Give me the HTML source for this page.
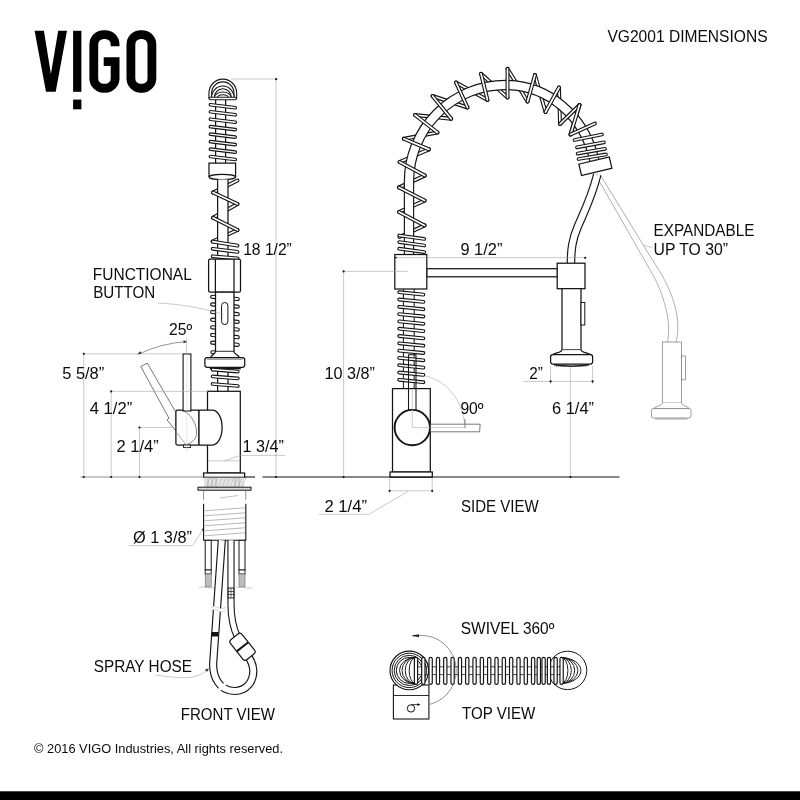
<!DOCTYPE html>
<html><head><meta charset="utf-8"><title>VG2001 Dimensions</title>
<style>html,body{margin:0;padding:0;background:#fff;}body{width:800px;height:800px;overflow:hidden;font-family:"Liberation Sans",sans-serif;}svg{display:block;filter:grayscale(1);}</style></head>
<body>
<svg width="800" height="800" viewBox="0 0 800 800" font-family="'Liberation Sans', sans-serif">
<rect width="800" height="800" fill="#fff"/>
<g fill="#000">
<polygon points="34.6,30.8 43.9,30.8 50.9,74 58.2,30.8 67,30.8 55.7,91.8 46,91.8"/>
<rect x="73.1" y="30.8" width="8.3" height="61"/>
<rect x="73.1" y="99.6" width="8.3" height="9.7"/>
</g>
<path d="M115.1 46.3 V44.4 A9.85 9.85 0 0 0 105.25 34.55 H103.65 A9.85 9.85 0 0 0 93.8 44.4 V78.4 A9.85 9.85 0 0 0 103.65 88.25 H105.25 A9.85 9.85 0 0 0 115.1 78.4 V61.7 H103.7" fill="none" stroke="#000" stroke-width="8.8" stroke-linejoin="miter"/>
<rect x="130.9" y="34.55" width="21" height="53.7" rx="9.85" fill="none" stroke="#000" stroke-width="8.8"/>
<path d="M210.3 98.5 V93.2 A12.5 12.7 0 0 1 235.3 93.2 V98.5" fill="none" stroke="#141414" stroke-width="3.85" stroke-linecap="butt" stroke-linejoin="round"/>
<path d="M210.3 98.5 V93.2 A12.5 12.7 0 0 1 235.3 93.2 V98.5" fill="none" stroke="#fff" stroke-width="1.6" stroke-linecap="butt" stroke-linejoin="round"/>
<path d="M212.8 98 A10 10.6 0 0 1 232.8 98" fill="none" stroke="#141414" stroke-width="3.85" stroke-linecap="butt" stroke-linejoin="round"/>
<path d="M212.8 98 A10 10.6 0 0 1 232.8 98" fill="none" stroke="#fff" stroke-width="1.6" stroke-linecap="butt" stroke-linejoin="round"/>
<path d="M215.6 98 A7.2 4.6 0 0 1 230 98" fill="none" stroke="#141414" stroke-width="3.85" stroke-linecap="butt" stroke-linejoin="round"/>
<path d="M215.6 98 A7.2 4.6 0 0 1 230 98" fill="none" stroke="#fff" stroke-width="1.6" stroke-linecap="butt" stroke-linejoin="round"/>
<line x1="215.6" y1="100" x2="215.6" y2="163" stroke="#141414" stroke-width="1.25" />
<line x1="225.6" y1="100" x2="225.6" y2="163" stroke="#141414" stroke-width="1.25" />
<path d="M210.4 98.5 L235.2 98.5" fill="none" stroke="#141414" stroke-width="3.65" stroke-linecap="round" stroke-linejoin="round"/>
<path d="M210.4 98.5 L235.2 98.5" fill="none" stroke="#fff" stroke-width="1.4" stroke-linecap="round" stroke-linejoin="round"/>
<path d="M210.4 104.7 L235.2 107.7" fill="none" stroke="#141414" stroke-width="3.65" stroke-linecap="round" stroke-linejoin="round"/>
<path d="M210.4 104.7 L235.2 107.7" fill="none" stroke="#fff" stroke-width="1.4" stroke-linecap="round" stroke-linejoin="round"/>
<path d="M210.4 111.8 L235.2 114.8" fill="none" stroke="#141414" stroke-width="3.65" stroke-linecap="round" stroke-linejoin="round"/>
<path d="M210.4 111.8 L235.2 114.8" fill="none" stroke="#fff" stroke-width="1.4" stroke-linecap="round" stroke-linejoin="round"/>
<path d="M210.4 119.2 L235.2 122.2" fill="none" stroke="#141414" stroke-width="3.65" stroke-linecap="round" stroke-linejoin="round"/>
<path d="M210.4 119.2 L235.2 122.2" fill="none" stroke="#fff" stroke-width="1.4" stroke-linecap="round" stroke-linejoin="round"/>
<path d="M210.4 126.6 L235.2 129.6" fill="none" stroke="#141414" stroke-width="3.65" stroke-linecap="round" stroke-linejoin="round"/>
<path d="M210.4 126.6 L235.2 129.6" fill="none" stroke="#fff" stroke-width="1.4" stroke-linecap="round" stroke-linejoin="round"/>
<path d="M210.4 134.1 L235.2 137.1" fill="none" stroke="#141414" stroke-width="3.65" stroke-linecap="round" stroke-linejoin="round"/>
<path d="M210.4 134.1 L235.2 137.1" fill="none" stroke="#fff" stroke-width="1.4" stroke-linecap="round" stroke-linejoin="round"/>
<path d="M210.4 141.6 L235.2 144.6" fill="none" stroke="#141414" stroke-width="3.65" stroke-linecap="round" stroke-linejoin="round"/>
<path d="M210.4 141.6 L235.2 144.6" fill="none" stroke="#fff" stroke-width="1.4" stroke-linecap="round" stroke-linejoin="round"/>
<path d="M210.4 149.1 L235.2 152.1" fill="none" stroke="#141414" stroke-width="3.65" stroke-linecap="round" stroke-linejoin="round"/>
<path d="M210.4 149.1 L235.2 152.1" fill="none" stroke="#fff" stroke-width="1.4" stroke-linecap="round" stroke-linejoin="round"/>
<path d="M210.4 156.5 L235.2 159.5" fill="none" stroke="#141414" stroke-width="3.65" stroke-linecap="round" stroke-linejoin="round"/>
<path d="M210.4 156.5 L235.2 159.5" fill="none" stroke="#fff" stroke-width="1.4" stroke-linecap="round" stroke-linejoin="round"/>
<path d="M209 163.2 H235.6 V177 A13.3 2.6 0 0 1 209 177 Z" fill="#fff" stroke="#141414" stroke-width="1.25" />
<path d="M209 177 A13.3 2.6 0 0 1 235.6 177" fill="none" stroke="#141414" stroke-width="1.25" />
<path d="M237.5 180.5 L213 192.5" fill="none" stroke="#141414" stroke-width="3.95" stroke-linecap="round" stroke-linejoin="round"/>
<path d="M237.5 180.5 L213 192.5" fill="none" stroke="#fff" stroke-width="1.7" stroke-linecap="round" stroke-linejoin="round"/>
<path d="M237.5 204 L213 217.8" fill="none" stroke="#141414" stroke-width="3.95" stroke-linecap="round" stroke-linejoin="round"/>
<path d="M237.5 204 L213 217.8" fill="none" stroke="#fff" stroke-width="1.7" stroke-linecap="round" stroke-linejoin="round"/>
<path d="M237.5 230 L212.5 241.5" fill="none" stroke="#141414" stroke-width="3.95" stroke-linecap="round" stroke-linejoin="round"/>
<path d="M237.5 230 L212.5 241.5" fill="none" stroke="#fff" stroke-width="1.7" stroke-linecap="round" stroke-linejoin="round"/>
<rect x="217.6" y="179.5" width="10.4" height="80" fill="#fff" stroke="none"/>
<line x1="217.6" y1="179.6" x2="217.6" y2="259" stroke="#141414" stroke-width="1.25" />
<line x1="228" y1="179.6" x2="228" y2="259" stroke="#141414" stroke-width="1.25" />
<path d="M213 192.5 L237.5 204" fill="none" stroke="#141414" stroke-width="3.95" stroke-linecap="round" stroke-linejoin="round"/>
<path d="M213 192.5 L237.5 204" fill="none" stroke="#fff" stroke-width="1.7" stroke-linecap="round" stroke-linejoin="round"/>
<path d="M213 217.8 L237.5 230" fill="none" stroke="#141414" stroke-width="3.95" stroke-linecap="round" stroke-linejoin="round"/>
<path d="M213 217.8 L237.5 230" fill="none" stroke="#fff" stroke-width="1.7" stroke-linecap="round" stroke-linejoin="round"/>
<path d="M212.7 241.6 L237.5 245.6" fill="none" stroke="#141414" stroke-width="3.85" stroke-linecap="round" stroke-linejoin="round"/>
<path d="M212.7 241.6 L237.5 245.6" fill="none" stroke="#fff" stroke-width="1.6" stroke-linecap="round" stroke-linejoin="round"/>
<path d="M212.7 248.8 L237.5 251.9" fill="none" stroke="#141414" stroke-width="3.85" stroke-linecap="round" stroke-linejoin="round"/>
<path d="M212.7 248.8 L237.5 251.9" fill="none" stroke="#fff" stroke-width="1.6" stroke-linecap="round" stroke-linejoin="round"/>
<path d="M212.7 256.3 L237.5 258.4" fill="none" stroke="#141414" stroke-width="3.85" stroke-linecap="round" stroke-linejoin="round"/>
<path d="M212.7 256.3 L237.5 258.4" fill="none" stroke="#fff" stroke-width="1.6" stroke-linecap="round" stroke-linejoin="round"/>
<rect x="208.6" y="259.2" width="31.9" height="33" rx="1.6" fill="#fff" stroke="#141414" stroke-width="1.25"/>
<line x1="215.4" y1="259.2" x2="215.4" y2="292.2" stroke="#141414" stroke-width="1.25" />
<line x1="234" y1="259.2" x2="234" y2="292.2" stroke="#141414" stroke-width="1.25" />
<path d="M212.2 296.8 L237.7 299" fill="none" stroke="#141414" stroke-width="4.25" stroke-linecap="round" stroke-linejoin="round"/>
<path d="M212.2 296.8 L237.7 299" fill="none" stroke="#fff" stroke-width="1.9" stroke-linecap="round" stroke-linejoin="round"/>
<path d="M212.2 304.4 L237.7 306.6" fill="none" stroke="#141414" stroke-width="4.25" stroke-linecap="round" stroke-linejoin="round"/>
<path d="M212.2 304.4 L237.7 306.6" fill="none" stroke="#fff" stroke-width="1.9" stroke-linecap="round" stroke-linejoin="round"/>
<path d="M212.2 312 L237.7 314.2" fill="none" stroke="#141414" stroke-width="4.25" stroke-linecap="round" stroke-linejoin="round"/>
<path d="M212.2 312 L237.7 314.2" fill="none" stroke="#fff" stroke-width="1.9" stroke-linecap="round" stroke-linejoin="round"/>
<path d="M212.2 319.7 L237.7 321.9" fill="none" stroke="#141414" stroke-width="4.25" stroke-linecap="round" stroke-linejoin="round"/>
<path d="M212.2 319.7 L237.7 321.9" fill="none" stroke="#fff" stroke-width="1.9" stroke-linecap="round" stroke-linejoin="round"/>
<path d="M212.2 327.3 L237.7 329.5" fill="none" stroke="#141414" stroke-width="4.25" stroke-linecap="round" stroke-linejoin="round"/>
<path d="M212.2 327.3 L237.7 329.5" fill="none" stroke="#fff" stroke-width="1.9" stroke-linecap="round" stroke-linejoin="round"/>
<path d="M212.2 335 L237.7 337.2" fill="none" stroke="#141414" stroke-width="4.25" stroke-linecap="round" stroke-linejoin="round"/>
<path d="M212.2 335 L237.7 337.2" fill="none" stroke="#fff" stroke-width="1.9" stroke-linecap="round" stroke-linejoin="round"/>
<path d="M212.2 342.6 L237.7 344.8" fill="none" stroke="#141414" stroke-width="4.25" stroke-linecap="round" stroke-linejoin="round"/>
<path d="M212.2 342.6 L237.7 344.8" fill="none" stroke="#fff" stroke-width="1.9" stroke-linecap="round" stroke-linejoin="round"/>
<path d="M212.4 352.2 L225 353" fill="none" stroke="#141414" stroke-width="4.05" stroke-linecap="round" stroke-linejoin="round"/>
<path d="M212.4 352.2 L225 353" fill="none" stroke="#fff" stroke-width="1.8" stroke-linecap="round" stroke-linejoin="round"/>
<path d="M215.5 292.2 V351.3 C215.5 354 212.5 354.6 211 356.6 L210 357.8 H239.8 L238.9 356.6 C237.5 354.6 234 354 234 351.3 V292.2 Z" fill="#fff" stroke="#141414" stroke-width="1.25" />
<line x1="215.5" y1="351.3" x2="234" y2="351.3" stroke="#141414" stroke-width="0.9" />
<rect x="204.9" y="357.6" width="39.8" height="9.7" rx="2.2" fill="#fff" stroke="#141414" stroke-width="1.25"/>
<line x1="207" y1="359.2" x2="242.6" y2="359.2" stroke="#444" stroke-width="0.7" />
<rect x="209.8" y="367.5" width="31" height="1.9" fill="#141414"/>
<rect x="221.6" y="302.5" width="6.3" height="22.1" rx="3.1" fill="#fff" stroke="#141414" stroke-width="1"/>
<rect x="217.6" y="369" width="10.4" height="23" fill="#fff"/>
<line x1="217.6" y1="369" x2="217.6" y2="391.5" stroke="#141414" stroke-width="1.25" />
<line x1="228" y1="369" x2="228" y2="391.5" stroke="#141414" stroke-width="1.25" />
<path d="M212.6 369.6 L237.8 371.6" fill="none" stroke="#141414" stroke-width="3.75" stroke-linecap="round" stroke-linejoin="round"/>
<path d="M212.6 369.6 L237.8 371.6" fill="none" stroke="#fff" stroke-width="1.55" stroke-linecap="round" stroke-linejoin="round"/>
<path d="M212.6 376.4 L237.8 378.4" fill="none" stroke="#141414" stroke-width="3.75" stroke-linecap="round" stroke-linejoin="round"/>
<path d="M212.6 376.4 L237.8 378.4" fill="none" stroke="#fff" stroke-width="1.55" stroke-linecap="round" stroke-linejoin="round"/>
<path d="M212.6 384 L237.8 386" fill="none" stroke="#141414" stroke-width="3.75" stroke-linecap="round" stroke-linejoin="round"/>
<path d="M212.6 384 L237.8 386" fill="none" stroke="#fff" stroke-width="1.55" stroke-linecap="round" stroke-linejoin="round"/>
<rect x="207.5" y="391.3" width="32.8" height="81.7" rx="0" fill="#fff" stroke="#141414" stroke-width="1.25"/>
<rect x="203.6" y="473" width="41" height="4.3" rx="0" fill="#fff" stroke="#141414" stroke-width="1.25"/>
<path d="M140.8 366.5 L147.3 363.2 L176 412.6 L176 431 L167 419.8 L169 418.3 Z" fill="#fff" stroke="#555" stroke-width="0.8" />
<rect x="175.9" y="410" width="23.1" height="35" rx="1.5" fill="#fff" stroke="#141414" stroke-width="1.25"/>
<path d="M183.5 410.5 C193 416 197 426 196.6 434 C196 440 190 444 186 444.6" fill="none" stroke="#666" stroke-width="0.8" />
<path d="M176.2 432 L186 444.6" fill="none" stroke="#888" stroke-width="0.7" />
<path d="M199 410 H212.4 A9.7 17.5 0 0 1 212.4 445 H199 Z" fill="#fff" stroke="#141414" stroke-width="1.25" />
<rect x="183.6" y="445" width="6.8" height="2.6" rx="0" fill="#fff" stroke="#141414" stroke-width="0.9"/>
<rect x="183.1" y="354" width="7.8" height="57" rx="0" fill="#fff" stroke="#141414" stroke-width="1.1"/>
<rect x="203.8" y="477.6" width="40.3" height="9.5" fill="#e4e4e4"/>
<line x1="206" y1="487" x2="210" y2="477.8" stroke="#aaa" stroke-width="0.5" />
<line x1="210" y1="487" x2="214" y2="477.8" stroke="#aaa" stroke-width="0.5" />
<line x1="214" y1="487" x2="218" y2="477.8" stroke="#aaa" stroke-width="0.5" />
<line x1="218" y1="487" x2="222" y2="477.8" stroke="#aaa" stroke-width="0.5" />
<line x1="222" y1="487" x2="226" y2="477.8" stroke="#aaa" stroke-width="0.5" />
<line x1="226" y1="487" x2="230" y2="477.8" stroke="#aaa" stroke-width="0.5" />
<line x1="230" y1="487" x2="234" y2="477.8" stroke="#aaa" stroke-width="0.5" />
<line x1="234" y1="487" x2="238" y2="477.8" stroke="#aaa" stroke-width="0.5" />
<line x1="238" y1="487" x2="242" y2="477.8" stroke="#aaa" stroke-width="0.5" />
<line x1="242" y1="487" x2="246" y2="477.8" stroke="#aaa" stroke-width="0.5" />
<line x1="208" y1="477.8" x2="208" y2="487" stroke="#999" stroke-width="0.6" />
<line x1="212" y1="477.8" x2="212" y2="487" stroke="#999" stroke-width="0.6" />
<line x1="216" y1="477.8" x2="216" y2="487" stroke="#999" stroke-width="0.6" />
<line x1="235" y1="477.8" x2="235" y2="487" stroke="#999" stroke-width="0.6" />
<line x1="239" y1="477.8" x2="239" y2="487" stroke="#999" stroke-width="0.6" />
<rect x="198" y="487.2" width="53" height="3" rx="0" fill="#ddd" stroke="#141414" stroke-width="1"/>
<line x1="203.6" y1="490.5" x2="203.6" y2="500" stroke="#777" stroke-width="0.8" />
<line x1="245.8" y1="490.5" x2="245.8" y2="500" stroke="#777" stroke-width="0.8" />
<line x1="220" y1="498" x2="238" y2="495.5" stroke="#999" stroke-width="0.6" />
<path d="M203.6 503.8 V540.3 H245.8 V503.8" fill="#fff" stroke="#141414" stroke-width="1.1" />
<line x1="204.5" y1="510.8" x2="245" y2="507.8" stroke="#888" stroke-width="0.6" />
<line x1="204.5" y1="515.8" x2="245" y2="512.8" stroke="#888" stroke-width="0.6" />
<line x1="204.5" y1="520.8" x2="245" y2="517.8" stroke="#888" stroke-width="0.6" />
<line x1="204.5" y1="525.8" x2="245" y2="522.8" stroke="#888" stroke-width="0.6" />
<line x1="204.5" y1="530.8" x2="245" y2="527.8" stroke="#888" stroke-width="0.6" />
<line x1="204.5" y1="535.8" x2="245" y2="532.8" stroke="#888" stroke-width="0.6" />
<rect x="205.2" y="540.3" width="6" height="29.7" rx="0" fill="#fff" stroke="#141414" stroke-width="1"/>
<rect x="205.2" y="570" width="6" height="4" rx="0" fill="#fff" stroke="#141414" stroke-width="0.9"/>
<rect x="205.2" y="574" width="6" height="13" fill="#bdbdbd" stroke="#666" stroke-width="0.6"/>
<rect x="239" y="540.3" width="6" height="29.7" rx="0" fill="#fff" stroke="#141414" stroke-width="1"/>
<rect x="239" y="570" width="6" height="4" rx="0" fill="#fff" stroke="#141414" stroke-width="0.9"/>
<rect x="239" y="574" width="6" height="13" fill="#bdbdbd" stroke="#666" stroke-width="0.6"/>
<path d="M199 587.5 q4 -1.5 8 0 t8 0 M236 587.5 q4 -1.5 8 0 t8 0" fill="none" stroke="#aaa" stroke-width="0.6" />
<path d="M231 540.3 V604 C231 617 232.2 626 237.5 637" fill="none" stroke="#141414" stroke-width="7.2" stroke-linecap="butt" stroke-linejoin="round"/>
<path d="M231 540.3 V604 C231 617 232.2 626 237.5 637" fill="none" stroke="#fff" stroke-width="5" stroke-linecap="butt" stroke-linejoin="round"/>
<rect x="228.2" y="588" width="5.6" height="10" rx="0" fill="#fff" stroke="#141414" stroke-width="0.9"/>
<line x1="228.2" y1="591.5" x2="233.8" y2="591.5" stroke="#141414" stroke-width="0.7" />
<line x1="228.2" y1="594.5" x2="233.8" y2="594.5" stroke="#141414" stroke-width="0.7" />
<line x1="231" y1="588" x2="231" y2="598" stroke="#141414" stroke-width="0.6" />
<path d="M221.8 540.3 L217.6 600 L213.2 663 C212.6 676 219 691 234.5 691 C247 691 253.5 681 253.3 670.5 C253 664 251 660.5 248.5 657" fill="none" stroke="#141414" stroke-width="8.2" stroke-linecap="butt" stroke-linejoin="round"/>
<path d="M221.8 540.3 L217.6 600 L213.2 663 C212.6 676 219 691 234.5 691 C247 691 253.5 681 253.3 670.5 C253 664 251 660.5 248.5 657" fill="none" stroke="#fff" stroke-width="5.9" stroke-linecap="butt" stroke-linejoin="round"/>
<path d="M211 609 q4 -2.5 7 0 t8 0" fill="none" stroke="#fff" stroke-width="3.2" />
<path d="M211 607.6 q4 -2.5 7 0 t8 0 M211 610.6 q4 -2.5 7 0 t8 0" fill="none" stroke="#bbb" stroke-width="0.6" />
<path d="M218.5 690.5 l7 -7" fill="none" stroke="#fff" stroke-width="3" />
<polygon points="211.4,632 218.6,632 218.4,636.4 211.2,636.4" fill="#141414"/>
<g transform="translate(242.5 646.8) rotate(51.5)">
<rect x="-12.8" y="-7.4" width="25.6" height="14.8" rx="3" fill="#fff" stroke="#141414" stroke-width="1.2"/>
<line x1="0" y1="-7.4" x2="0" y2="7.4" stroke="#141414" stroke-width="2"/>
</g>
<path d="M596.8 176.8 L650.8 271.2 C659 285 667 305 668.6 325 C668.9 332 668.2 338 667.6 342" fill="none" stroke="#8e8e8e" stroke-width="0.7" />
<path d="M600 174.5 L655.2 264.5 C665 279 675 298 677.6 320 C678.2 330 677.2 337 676.4 342" fill="none" stroke="#8e8e8e" stroke-width="0.7" />
<rect x="662.3" y="342" width="19.2" height="60.4" rx="0" fill="#fff" stroke="#727272" stroke-width="0.7"/>
<rect x="681.5" y="356" width="3.9" height="23.8" rx="0" fill="#fff" stroke="#727272" stroke-width="0.7"/>
<path d="M662.3 402.4 C662.3 406 656 406 653.2 408.6 H689.4 C687 406 681.5 406 681.5 402.4" fill="#fff" stroke="#727272" stroke-width="0.7" />
<rect x="651.4" y="408.6" width="39.6" height="9.4" rx="2" fill="#fff" stroke="#727272" stroke-width="0.7"/>
<line x1="655.4" y1="419" x2="687.7" y2="419" stroke="#666" stroke-width="1.2" stroke-dasharray="1.2 0.8"/>
<path d="M399.5 237 L424.6 225.4" fill="none" stroke="#141414" stroke-width="3.95" stroke-linecap="round" stroke-linejoin="round"/>
<path d="M399.5 237 L424.6 225.4" fill="none" stroke="#fff" stroke-width="1.7" stroke-linecap="round" stroke-linejoin="round"/>
<path d="M399 212 L424.6 200.6" fill="none" stroke="#141414" stroke-width="3.95" stroke-linecap="round" stroke-linejoin="round"/>
<path d="M399 212 L424.6 200.6" fill="none" stroke="#fff" stroke-width="1.7" stroke-linecap="round" stroke-linejoin="round"/>
<path d="M399 187.4 L424.8 175.6" fill="none" stroke="#141414" stroke-width="3.95" stroke-linecap="round" stroke-linejoin="round"/>
<path d="M399 187.4 L424.8 175.6" fill="none" stroke="#fff" stroke-width="1.7" stroke-linecap="round" stroke-linejoin="round"/>
<path d="M399.6 162 L429 149.4" fill="none" stroke="#141414" stroke-width="3.95" stroke-linecap="round" stroke-linejoin="round"/>
<path d="M399.6 162 L429 149.4" fill="none" stroke="#fff" stroke-width="1.7" stroke-linecap="round" stroke-linejoin="round"/>
<path d="M403.8 138.8 L437.5 132.5" fill="none" stroke="#141414" stroke-width="3.95" stroke-linecap="round" stroke-linejoin="round"/>
<path d="M403.8 138.8 L437.5 132.5" fill="none" stroke="#fff" stroke-width="1.7" stroke-linecap="round" stroke-linejoin="round"/>
<path d="M415 115 L451.2 118.8" fill="none" stroke="#141414" stroke-width="3.95" stroke-linecap="round" stroke-linejoin="round"/>
<path d="M415 115 L451.2 118.8" fill="none" stroke="#fff" stroke-width="1.7" stroke-linecap="round" stroke-linejoin="round"/>
<path d="M432.5 96 L467.5 107.5" fill="none" stroke="#141414" stroke-width="3.95" stroke-linecap="round" stroke-linejoin="round"/>
<path d="M432.5 96 L467.5 107.5" fill="none" stroke="#fff" stroke-width="1.7" stroke-linecap="round" stroke-linejoin="round"/>
<path d="M456 82.5 L487.5 100" fill="none" stroke="#141414" stroke-width="3.95" stroke-linecap="round" stroke-linejoin="round"/>
<path d="M456 82.5 L487.5 100" fill="none" stroke="#fff" stroke-width="1.7" stroke-linecap="round" stroke-linejoin="round"/>
<path d="M481 73.8 L507.5 97.5" fill="none" stroke="#141414" stroke-width="3.95" stroke-linecap="round" stroke-linejoin="round"/>
<path d="M481 73.8 L507.5 97.5" fill="none" stroke="#fff" stroke-width="1.7" stroke-linecap="round" stroke-linejoin="round"/>
<path d="M507.5 68.8 L527.5 101.5" fill="none" stroke="#141414" stroke-width="3.95" stroke-linecap="round" stroke-linejoin="round"/>
<path d="M507.5 68.8 L527.5 101.5" fill="none" stroke="#fff" stroke-width="1.7" stroke-linecap="round" stroke-linejoin="round"/>
<path d="M535 75 L545.5 112" fill="none" stroke="#141414" stroke-width="3.95" stroke-linecap="round" stroke-linejoin="round"/>
<path d="M535 75 L545.5 112" fill="none" stroke="#fff" stroke-width="1.7" stroke-linecap="round" stroke-linejoin="round"/>
<path d="M559 87.5 L560 124" fill="none" stroke="#141414" stroke-width="3.95" stroke-linecap="round" stroke-linejoin="round"/>
<path d="M559 87.5 L560 124" fill="none" stroke="#fff" stroke-width="1.7" stroke-linecap="round" stroke-linejoin="round"/>
<path d="M579.5 105 L570.5 134.5" fill="none" stroke="#141414" stroke-width="3.95" stroke-linecap="round" stroke-linejoin="round"/>
<path d="M579.5 105 L570.5 134.5" fill="none" stroke="#fff" stroke-width="1.7" stroke-linecap="round" stroke-linejoin="round"/>
<path d="M409 255 V181.5 A96.5 96.5 0 0 1 505.5 85 A91 96.5 0 0 1 594.17 159.79" fill="none" stroke="#141414" stroke-width="10.4" stroke-linecap="butt" stroke-linejoin="round"/>
<path d="M409 255 V181.5 A96.5 96.5 0 0 1 505.5 85 A91 96.5 0 0 1 594.17 159.79" fill="none" stroke="#fff" stroke-width="8.1" stroke-linecap="butt" stroke-linejoin="round"/>
<path d="M424.6 225.4 L399 212" fill="none" stroke="#141414" stroke-width="3.95" stroke-linecap="round" stroke-linejoin="round"/>
<path d="M424.6 225.4 L399 212" fill="none" stroke="#fff" stroke-width="1.7" stroke-linecap="round" stroke-linejoin="round"/>
<path d="M424.6 200.6 L399 187.4" fill="none" stroke="#141414" stroke-width="3.95" stroke-linecap="round" stroke-linejoin="round"/>
<path d="M424.6 200.6 L399 187.4" fill="none" stroke="#fff" stroke-width="1.7" stroke-linecap="round" stroke-linejoin="round"/>
<path d="M424.8 175.6 L399.6 162" fill="none" stroke="#141414" stroke-width="3.95" stroke-linecap="round" stroke-linejoin="round"/>
<path d="M424.8 175.6 L399.6 162" fill="none" stroke="#fff" stroke-width="1.7" stroke-linecap="round" stroke-linejoin="round"/>
<path d="M429 149.4 L403.8 138.8" fill="none" stroke="#141414" stroke-width="3.95" stroke-linecap="round" stroke-linejoin="round"/>
<path d="M429 149.4 L403.8 138.8" fill="none" stroke="#fff" stroke-width="1.7" stroke-linecap="round" stroke-linejoin="round"/>
<path d="M437.5 132.5 L415 115" fill="none" stroke="#141414" stroke-width="3.95" stroke-linecap="round" stroke-linejoin="round"/>
<path d="M437.5 132.5 L415 115" fill="none" stroke="#fff" stroke-width="1.7" stroke-linecap="round" stroke-linejoin="round"/>
<path d="M451.2 118.8 L432.5 96" fill="none" stroke="#141414" stroke-width="3.95" stroke-linecap="round" stroke-linejoin="round"/>
<path d="M451.2 118.8 L432.5 96" fill="none" stroke="#fff" stroke-width="1.7" stroke-linecap="round" stroke-linejoin="round"/>
<path d="M467.5 107.5 L456 82.5" fill="none" stroke="#141414" stroke-width="3.95" stroke-linecap="round" stroke-linejoin="round"/>
<path d="M467.5 107.5 L456 82.5" fill="none" stroke="#fff" stroke-width="1.7" stroke-linecap="round" stroke-linejoin="round"/>
<path d="M487.5 100 L481 73.8" fill="none" stroke="#141414" stroke-width="3.95" stroke-linecap="round" stroke-linejoin="round"/>
<path d="M487.5 100 L481 73.8" fill="none" stroke="#fff" stroke-width="1.7" stroke-linecap="round" stroke-linejoin="round"/>
<path d="M507.5 97.5 L507.5 68.8" fill="none" stroke="#141414" stroke-width="3.95" stroke-linecap="round" stroke-linejoin="round"/>
<path d="M507.5 97.5 L507.5 68.8" fill="none" stroke="#fff" stroke-width="1.7" stroke-linecap="round" stroke-linejoin="round"/>
<path d="M527.5 101.5 L535 75" fill="none" stroke="#141414" stroke-width="3.95" stroke-linecap="round" stroke-linejoin="round"/>
<path d="M527.5 101.5 L535 75" fill="none" stroke="#fff" stroke-width="1.7" stroke-linecap="round" stroke-linejoin="round"/>
<path d="M545.5 112 L559 87.5" fill="none" stroke="#141414" stroke-width="3.95" stroke-linecap="round" stroke-linejoin="round"/>
<path d="M545.5 112 L559 87.5" fill="none" stroke="#fff" stroke-width="1.7" stroke-linecap="round" stroke-linejoin="round"/>
<path d="M560 124 L579.5 105" fill="none" stroke="#141414" stroke-width="3.95" stroke-linecap="round" stroke-linejoin="round"/>
<path d="M560 124 L579.5 105" fill="none" stroke="#fff" stroke-width="1.7" stroke-linecap="round" stroke-linejoin="round"/>
<path d="M579.5 105 L570.5 134.5" fill="none" stroke="#141414" stroke-width="3.95" stroke-linecap="round" stroke-linejoin="round"/>
<path d="M579.5 105 L570.5 134.5" fill="none" stroke="#fff" stroke-width="1.7" stroke-linecap="round" stroke-linejoin="round"/>
<path d="M570.5 134.5 L595 123.5" fill="none" stroke="#141414" stroke-width="3.75" stroke-linecap="round" stroke-linejoin="round"/>
<path d="M570.5 134.5 L595 123.5" fill="none" stroke="#fff" stroke-width="1.55" stroke-linecap="round" stroke-linejoin="round"/>
<path d="M574.5 140 L602 134.5" fill="none" stroke="#141414" stroke-width="3.75" stroke-linecap="round" stroke-linejoin="round"/>
<path d="M574.5 140 L602 134.5" fill="none" stroke="#fff" stroke-width="1.55" stroke-linecap="round" stroke-linejoin="round"/>
<path d="M577 147.3 L604 142.3" fill="none" stroke="#141414" stroke-width="3.75" stroke-linecap="round" stroke-linejoin="round"/>
<path d="M577 147.3 L604 142.3" fill="none" stroke="#fff" stroke-width="1.55" stroke-linecap="round" stroke-linejoin="round"/>
<path d="M577.6 153.6 L605 148.8" fill="none" stroke="#141414" stroke-width="3.75" stroke-linecap="round" stroke-linejoin="round"/>
<path d="M577.6 153.6 L605 148.8" fill="none" stroke="#fff" stroke-width="1.55" stroke-linecap="round" stroke-linejoin="round"/>
<path d="M578.5 159 L606 154.4" fill="none" stroke="#141414" stroke-width="3.75" stroke-linecap="round" stroke-linejoin="round"/>
<path d="M578.5 159 L606 154.4" fill="none" stroke="#fff" stroke-width="1.55" stroke-linecap="round" stroke-linejoin="round"/>
<g transform="translate(595.4 166.2) rotate(-13.3)">
<rect x="-15.6" y="-5.8" width="31.2" height="11.6" fill="#fff" stroke="#141414" stroke-width="1.25"/>
</g>
<path d="M597.3 174.5 C592 196 586 208 578 226 C572 240 571 250 571 263.5" fill="none" stroke="#141414" stroke-width="8.6" stroke-linecap="butt" stroke-linejoin="round"/>
<path d="M597.3 174.5 C592 196 586 208 578 226 C572 240 571 250 571 263.5" fill="none" stroke="#fff" stroke-width="6.3" stroke-linecap="butt" stroke-linejoin="round"/>
<path d="M399.2 235.5 L424.3 238.9" fill="none" stroke="#141414" stroke-width="3.75" stroke-linecap="round" stroke-linejoin="round"/>
<path d="M399.2 235.5 L424.3 238.9" fill="none" stroke="#fff" stroke-width="1.55" stroke-linecap="round" stroke-linejoin="round"/>
<path d="M399.2 242.1 L424.3 245.5" fill="none" stroke="#141414" stroke-width="3.75" stroke-linecap="round" stroke-linejoin="round"/>
<path d="M399.2 242.1 L424.3 245.5" fill="none" stroke="#fff" stroke-width="1.55" stroke-linecap="round" stroke-linejoin="round"/>
<path d="M399.2 248.7 L424.3 252.1" fill="none" stroke="#141414" stroke-width="3.75" stroke-linecap="round" stroke-linejoin="round"/>
<path d="M399.2 248.7 L424.3 252.1" fill="none" stroke="#fff" stroke-width="1.55" stroke-linecap="round" stroke-linejoin="round"/>
<rect x="426.7" y="268.7" width="130.8" height="8.1" rx="0" fill="#fff" stroke="#141414" stroke-width="1.25"/>
<rect x="394.8" y="254.5" width="32" height="34.5" rx="0" fill="#fff" stroke="#141414" stroke-width="1.25"/>
<rect x="557.2" y="263.2" width="27.8" height="25.5" rx="0" fill="#fff" stroke="#141414" stroke-width="1.25"/>
<path d="M562 288.7 V349.4 C562 352.8 555 352.4 552.6 354.6 H590.6 C588 352.4 581 352.8 581 349.4 V288.7 Z" fill="#fff" stroke="#141414" stroke-width="1.25" />
<line x1="562.5" y1="349.6" x2="580.5" y2="349.6" stroke="#141414" stroke-width="0.8" />
<rect x="550.6" y="354.6" width="42" height="9.4" rx="2.2" fill="#fff" stroke="#141414" stroke-width="1.25"/>
<path d="M554 364.8 Q571.5 367.6 589 364.8" stroke="#141414" stroke-width="1.6" fill="none"/>
<line x1="556" y1="366.2" x2="587" y2="366.2" stroke="#555" stroke-width="1" stroke-dasharray="1 1.2"/>
<rect x="581" y="302.4" width="3.8" height="22.6" rx="0" fill="#fff" stroke="#141414" stroke-width="1"/>
<line x1="403.4" y1="289" x2="403.4" y2="388.5" stroke="#141414" stroke-width="1" />
<line x1="414.2" y1="289" x2="414.2" y2="388.5" stroke="#141414" stroke-width="1" />
<path d="M399.2 292.2 L423.4 294.6" fill="none" stroke="#141414" stroke-width="3.85" stroke-linecap="round" stroke-linejoin="round"/>
<path d="M399.2 292.2 L423.4 294.6" fill="none" stroke="#fff" stroke-width="1.6" stroke-linecap="round" stroke-linejoin="round"/>
<path d="M399.2 299.5 L423.4 301.9" fill="none" stroke="#141414" stroke-width="3.85" stroke-linecap="round" stroke-linejoin="round"/>
<path d="M399.2 299.5 L423.4 301.9" fill="none" stroke="#fff" stroke-width="1.6" stroke-linecap="round" stroke-linejoin="round"/>
<path d="M399.2 306.8 L423.4 309.2" fill="none" stroke="#141414" stroke-width="3.85" stroke-linecap="round" stroke-linejoin="round"/>
<path d="M399.2 306.8 L423.4 309.2" fill="none" stroke="#fff" stroke-width="1.6" stroke-linecap="round" stroke-linejoin="round"/>
<path d="M399.2 314.1 L423.4 316.5" fill="none" stroke="#141414" stroke-width="3.85" stroke-linecap="round" stroke-linejoin="round"/>
<path d="M399.2 314.1 L423.4 316.5" fill="none" stroke="#fff" stroke-width="1.6" stroke-linecap="round" stroke-linejoin="round"/>
<path d="M399.2 321.4 L423.4 323.8" fill="none" stroke="#141414" stroke-width="3.85" stroke-linecap="round" stroke-linejoin="round"/>
<path d="M399.2 321.4 L423.4 323.8" fill="none" stroke="#fff" stroke-width="1.6" stroke-linecap="round" stroke-linejoin="round"/>
<path d="M399.2 328.7 L423.4 331.1" fill="none" stroke="#141414" stroke-width="3.85" stroke-linecap="round" stroke-linejoin="round"/>
<path d="M399.2 328.7 L423.4 331.1" fill="none" stroke="#fff" stroke-width="1.6" stroke-linecap="round" stroke-linejoin="round"/>
<path d="M399.2 336 L423.4 338.4" fill="none" stroke="#141414" stroke-width="3.85" stroke-linecap="round" stroke-linejoin="round"/>
<path d="M399.2 336 L423.4 338.4" fill="none" stroke="#fff" stroke-width="1.6" stroke-linecap="round" stroke-linejoin="round"/>
<path d="M399.2 343.3 L423.4 345.7" fill="none" stroke="#141414" stroke-width="3.85" stroke-linecap="round" stroke-linejoin="round"/>
<path d="M399.2 343.3 L423.4 345.7" fill="none" stroke="#fff" stroke-width="1.6" stroke-linecap="round" stroke-linejoin="round"/>
<path d="M399.2 350.6 L423.4 353" fill="none" stroke="#141414" stroke-width="3.85" stroke-linecap="round" stroke-linejoin="round"/>
<path d="M399.2 350.6 L423.4 353" fill="none" stroke="#fff" stroke-width="1.6" stroke-linecap="round" stroke-linejoin="round"/>
<path d="M399.2 357.9 L423.4 360.3" fill="none" stroke="#141414" stroke-width="3.85" stroke-linecap="round" stroke-linejoin="round"/>
<path d="M399.2 357.9 L423.4 360.3" fill="none" stroke="#fff" stroke-width="1.6" stroke-linecap="round" stroke-linejoin="round"/>
<path d="M399.2 365.2 L423.4 367.6" fill="none" stroke="#141414" stroke-width="3.85" stroke-linecap="round" stroke-linejoin="round"/>
<path d="M399.2 365.2 L423.4 367.6" fill="none" stroke="#fff" stroke-width="1.6" stroke-linecap="round" stroke-linejoin="round"/>
<path d="M399.2 372.5 L423.4 374.9" fill="none" stroke="#141414" stroke-width="3.85" stroke-linecap="round" stroke-linejoin="round"/>
<path d="M399.2 372.5 L423.4 374.9" fill="none" stroke="#fff" stroke-width="1.6" stroke-linecap="round" stroke-linejoin="round"/>
<path d="M399.2 379.8 L423.4 382.2" fill="none" stroke="#141414" stroke-width="3.85" stroke-linecap="round" stroke-linejoin="round"/>
<path d="M399.2 379.8 L423.4 382.2" fill="none" stroke="#fff" stroke-width="1.6" stroke-linecap="round" stroke-linejoin="round"/>
<rect x="392.5" y="388.6" width="37.8" height="83.4" rx="0" fill="#fff" stroke="#141414" stroke-width="1.25"/>
<rect x="390" y="472" width="42.3" height="5.2" rx="0" fill="#fff" stroke="#141414" stroke-width="1.25"/>
<path d="M429 424.2 H480.2 L479.6 431.8 H429" fill="#fff" stroke="#555" stroke-width="0.8" />
<circle cx="412.3" cy="427.6" r="17.7" fill="#fff" stroke="#141414" stroke-width="1.9"/>
<path d="M412.3 390 V427.6 H465" fill="none" stroke="#aaa" stroke-width="0.6" />
<path d="M408.5 410.6 V354.8 H416 V410.6" fill="none" stroke="#141414" stroke-width="1.05" />
<rect x="393.4" y="685" width="35.5" height="34" rx="0" fill="#fff" stroke="#141414" stroke-width="1.1"/>
<line x1="393.4" y1="695.5" x2="428.9" y2="695.5" stroke="#141414" stroke-width="0.9" />
<circle cx="411" cy="708.4" r="3.7" fill="#fff" stroke="#141414" stroke-width="1.0"/>
<line x1="411.5" y1="704.6" x2="419" y2="704.6" stroke="#141414" stroke-width="0.8" />
<polygon points="420.6,704.6 417.4,703.3 417.4,705.9" fill="#141414"/>
<circle cx="567.6" cy="670.4" r="19.2" fill="#fff" stroke="#141414" stroke-width="1.0"/>
<circle cx="409.3" cy="670.4" r="19.3" fill="#fff" stroke="#141414" stroke-width="1.15"/>
<circle cx="409.3" cy="670.4" r="17.2" fill="none" stroke="#141414" stroke-width="1"/>
<circle cx="409.3" cy="670.4" r="15.1" fill="none" stroke="#141414" stroke-width="1"/>
<circle cx="409.3" cy="670.4" r="13" fill="none" stroke="#141414" stroke-width="1"/>
<line x1="416" y1="666.8" x2="561" y2="666.8" stroke="#222" stroke-width="0.8" />
<line x1="416" y1="674.6" x2="561" y2="674.6" stroke="#222" stroke-width="0.8" />
<path d="M415.8 657.2 A16.3 13.3 0 0 0 415.8 683.8" fill="none" stroke="#141414" stroke-width="0.95" />
<path d="M415.8 657.2 A13.8 13.3 0 0 0 415.8 683.8" fill="none" stroke="#141414" stroke-width="0.95" />
<path d="M415.8 657.2 A10.6 13.3 0 0 0 415.8 683.8" fill="none" stroke="#141414" stroke-width="0.95" />
<path d="M415.8 657.2 A6.6 13.3 0 0 0 415.8 683.8" fill="none" stroke="#141414" stroke-width="0.95" />
<path d="M561.3 657.6 A19.6 12.9 0 0 1 561.3 683.4" fill="none" stroke="#141414" stroke-width="0.95" />
<path d="M561.3 657.6 A16.6 12.9 0 0 1 561.3 683.4" fill="none" stroke="#141414" stroke-width="0.95" />
<path d="M561.3 657.6 A13.4 12.9 0 0 1 561.3 683.4" fill="none" stroke="#141414" stroke-width="0.95" />
<path d="M561.3 657.6 A10 12.9 0 0 1 561.3 683.4" fill="none" stroke="#141414" stroke-width="0.95" />
<path d="M561.3 657.6 A6.6 12.9 0 0 1 561.3 683.4" fill="none" stroke="#141414" stroke-width="0.95" />
<path d="M416 659 L416 682.7" fill="none" stroke="#141414" stroke-width="4.45" stroke-linecap="round" stroke-linejoin="round"/>
<path d="M416 659 L416 682.7" fill="none" stroke="#fff" stroke-width="2.1" stroke-linecap="round" stroke-linejoin="round"/>
<path d="M423.32 659 L423.32 682.7" fill="none" stroke="#141414" stroke-width="4.45" stroke-linecap="round" stroke-linejoin="round"/>
<path d="M423.32 659 L423.32 682.7" fill="none" stroke="#fff" stroke-width="2.1" stroke-linecap="round" stroke-linejoin="round"/>
<path d="M430.64 659 L430.64 682.7" fill="none" stroke="#141414" stroke-width="4.45" stroke-linecap="round" stroke-linejoin="round"/>
<path d="M430.64 659 L430.64 682.7" fill="none" stroke="#fff" stroke-width="2.1" stroke-linecap="round" stroke-linejoin="round"/>
<path d="M437.96 659 L437.96 682.7" fill="none" stroke="#141414" stroke-width="4.45" stroke-linecap="round" stroke-linejoin="round"/>
<path d="M437.96 659 L437.96 682.7" fill="none" stroke="#fff" stroke-width="2.1" stroke-linecap="round" stroke-linejoin="round"/>
<path d="M445.28 659 L445.28 682.7" fill="none" stroke="#141414" stroke-width="4.45" stroke-linecap="round" stroke-linejoin="round"/>
<path d="M445.28 659 L445.28 682.7" fill="none" stroke="#fff" stroke-width="2.1" stroke-linecap="round" stroke-linejoin="round"/>
<path d="M452.6 659 L452.6 682.7" fill="none" stroke="#141414" stroke-width="4.45" stroke-linecap="round" stroke-linejoin="round"/>
<path d="M452.6 659 L452.6 682.7" fill="none" stroke="#fff" stroke-width="2.1" stroke-linecap="round" stroke-linejoin="round"/>
<path d="M459.92 659 L459.92 682.7" fill="none" stroke="#141414" stroke-width="4.45" stroke-linecap="round" stroke-linejoin="round"/>
<path d="M459.92 659 L459.92 682.7" fill="none" stroke="#fff" stroke-width="2.1" stroke-linecap="round" stroke-linejoin="round"/>
<path d="M467.24 659 L467.24 682.7" fill="none" stroke="#141414" stroke-width="4.45" stroke-linecap="round" stroke-linejoin="round"/>
<path d="M467.24 659 L467.24 682.7" fill="none" stroke="#fff" stroke-width="2.1" stroke-linecap="round" stroke-linejoin="round"/>
<path d="M474.56 659 L474.56 682.7" fill="none" stroke="#141414" stroke-width="4.45" stroke-linecap="round" stroke-linejoin="round"/>
<path d="M474.56 659 L474.56 682.7" fill="none" stroke="#fff" stroke-width="2.1" stroke-linecap="round" stroke-linejoin="round"/>
<path d="M481.88 659 L481.88 682.7" fill="none" stroke="#141414" stroke-width="4.45" stroke-linecap="round" stroke-linejoin="round"/>
<path d="M481.88 659 L481.88 682.7" fill="none" stroke="#fff" stroke-width="2.1" stroke-linecap="round" stroke-linejoin="round"/>
<path d="M489.2 659 L489.2 682.7" fill="none" stroke="#141414" stroke-width="4.45" stroke-linecap="round" stroke-linejoin="round"/>
<path d="M489.2 659 L489.2 682.7" fill="none" stroke="#fff" stroke-width="2.1" stroke-linecap="round" stroke-linejoin="round"/>
<path d="M496.52 659 L496.52 682.7" fill="none" stroke="#141414" stroke-width="4.45" stroke-linecap="round" stroke-linejoin="round"/>
<path d="M496.52 659 L496.52 682.7" fill="none" stroke="#fff" stroke-width="2.1" stroke-linecap="round" stroke-linejoin="round"/>
<path d="M503.84 659 L503.84 682.7" fill="none" stroke="#141414" stroke-width="4.45" stroke-linecap="round" stroke-linejoin="round"/>
<path d="M503.84 659 L503.84 682.7" fill="none" stroke="#fff" stroke-width="2.1" stroke-linecap="round" stroke-linejoin="round"/>
<path d="M511.16 659 L511.16 682.7" fill="none" stroke="#141414" stroke-width="4.45" stroke-linecap="round" stroke-linejoin="round"/>
<path d="M511.16 659 L511.16 682.7" fill="none" stroke="#fff" stroke-width="2.1" stroke-linecap="round" stroke-linejoin="round"/>
<path d="M518.48 659 L518.48 682.7" fill="none" stroke="#141414" stroke-width="4.45" stroke-linecap="round" stroke-linejoin="round"/>
<path d="M518.48 659 L518.48 682.7" fill="none" stroke="#fff" stroke-width="2.1" stroke-linecap="round" stroke-linejoin="round"/>
<path d="M525.8 659 L525.8 682.7" fill="none" stroke="#141414" stroke-width="4.45" stroke-linecap="round" stroke-linejoin="round"/>
<path d="M525.8 659 L525.8 682.7" fill="none" stroke="#fff" stroke-width="2.1" stroke-linecap="round" stroke-linejoin="round"/>
<path d="M533.12 659 L533.12 682.7" fill="none" stroke="#141414" stroke-width="4.45" stroke-linecap="round" stroke-linejoin="round"/>
<path d="M533.12 659 L533.12 682.7" fill="none" stroke="#fff" stroke-width="2.1" stroke-linecap="round" stroke-linejoin="round"/>
<path d="M538.8 659 L538.8 682.7" fill="none" stroke="#141414" stroke-width="4.45" stroke-linecap="round" stroke-linejoin="round"/>
<path d="M538.8 659 L538.8 682.7" fill="none" stroke="#fff" stroke-width="2.1" stroke-linecap="round" stroke-linejoin="round"/>
<path d="M543.6 659 L543.6 682.7" fill="none" stroke="#141414" stroke-width="4.45" stroke-linecap="round" stroke-linejoin="round"/>
<path d="M543.6 659 L543.6 682.7" fill="none" stroke="#fff" stroke-width="2.1" stroke-linecap="round" stroke-linejoin="round"/>
<path d="M549 659 L549 682.7" fill="none" stroke="#141414" stroke-width="4.45" stroke-linecap="round" stroke-linejoin="round"/>
<path d="M549 659 L549 682.7" fill="none" stroke="#fff" stroke-width="2.1" stroke-linecap="round" stroke-linejoin="round"/>
<path d="M555.6 659 L555.6 682.7" fill="none" stroke="#141414" stroke-width="4.45" stroke-linecap="round" stroke-linejoin="round"/>
<path d="M555.6 659 L555.6 682.7" fill="none" stroke="#fff" stroke-width="2.1" stroke-linecap="round" stroke-linejoin="round"/>
<path d="M561.6 659 L561.6 682.7" fill="none" stroke="#141414" stroke-width="4.45" stroke-linecap="round" stroke-linejoin="round"/>
<path d="M561.6 659 L561.6 682.7" fill="none" stroke="#fff" stroke-width="2.1" stroke-linecap="round" stroke-linejoin="round"/>
<path d="M412.6 636.4 A35 35 0 1 1 429.7 704.4" fill="none" stroke="#666" stroke-width="0.7" />
<polygon points="411.4,635.6 419,634.3 419,637.2" fill="#222"/>
<line x1="80.5" y1="477" x2="204" y2="477" stroke="#777" stroke-width="0.8" />
<line x1="245" y1="477" x2="255" y2="477" stroke="#141414" stroke-width="1.1" />
<line x1="262.5" y1="477" x2="619.5" y2="477" stroke="#141414" stroke-width="1.2" />
<line x1="231" y1="79" x2="276" y2="79" stroke="#a6a6a6" stroke-width="0.6" />
<line x1="276" y1="79" x2="276" y2="477" stroke="#a6a6a6" stroke-width="0.6" />
<circle cx="276.2" cy="79.2" r="1.1" fill="#141414"/>
<circle cx="276" cy="477" r="1.1" fill="#141414"/>
<line x1="83.8" y1="353.8" x2="83.8" y2="477" stroke="#a6a6a6" stroke-width="0.6" />
<line x1="83.8" y1="353.8" x2="183" y2="353.8" stroke="#a6a6a6" stroke-width="0.6" />
<circle cx="83.8" cy="353.8" r="1.1" fill="#141414"/>
<circle cx="83.8" cy="477" r="1.1" fill="#141414"/>
<line x1="111.2" y1="391.4" x2="111.2" y2="477" stroke="#a6a6a6" stroke-width="0.6" />
<line x1="111.2" y1="391.4" x2="208" y2="391.4" stroke="#a6a6a6" stroke-width="0.6" />
<circle cx="111.2" cy="391.4" r="1.1" fill="#141414"/>
<circle cx="111.2" cy="477" r="1.1" fill="#141414"/>
<line x1="139.5" y1="427.5" x2="139.5" y2="477" stroke="#a6a6a6" stroke-width="0.6" />
<line x1="139.5" y1="427.5" x2="176" y2="427.5" stroke="#a6a6a6" stroke-width="0.6" />
<circle cx="139.5" cy="427.5" r="1.1" fill="#141414"/>
<circle cx="139.5" cy="477" r="1.1" fill="#141414"/>
<path d="M139.4 353.8 Q160.5 343.6 186 341.6" fill="none" stroke="#666" stroke-width="0.7" />
<polygon points="187.5,341.8 183.5,340.3 183.5,343.3" fill="#333"/>
<polygon points="137.3,354.4 141.6,353.6 140.2,351.2" fill="#333"/>
<line x1="186.6" y1="338" x2="186.6" y2="354" stroke="#a6a6a6" stroke-width="0.6" />
<line x1="186.8" y1="354" x2="186.8" y2="452" stroke="#d0d0d0" stroke-width="0.5" />
<path d="M157.5 303 C180 304 205 308.5 223.5 314.5" fill="none" stroke="#a6a6a6" stroke-width="0.6" />
<line x1="208" y1="460.8" x2="240.3" y2="460.8" stroke="#a6a6a6" stroke-width="0.6" />
<line x1="240.3" y1="455.4" x2="285" y2="455.4" stroke="#a6a6a6" stroke-width="0.6" />
<line x1="240.3" y1="455.4" x2="224.5" y2="460.8" stroke="#a6a6a6" stroke-width="0.6" />
<path d="M128.8 545.6 H192.5 L202.8 530" fill="none" stroke="#a6a6a6" stroke-width="0.6" />
<circle cx="203" cy="529.6" r="1" fill="#141414"/>
<path d="M156.2 675 C172 677.6 184 678.4 192.5 677 C199 676 204 673 208 669" fill="none" stroke="#a6a6a6" stroke-width="0.6" />
<polygon points="209,668.6 205,669.6 207,672" fill="#333"/>
<line x1="343.6" y1="271.4" x2="343.6" y2="477" stroke="#a6a6a6" stroke-width="0.6" />
<line x1="343.6" y1="271.4" x2="408" y2="271.4" stroke="#a6a6a6" stroke-width="0.6" />
<circle cx="343.6" cy="271.4" r="1.1" fill="#141414"/>
<circle cx="343.6" cy="477" r="1.1" fill="#141414"/>
<line x1="396" y1="257.6" x2="585" y2="257.6" stroke="#a6a6a6" stroke-width="0.6" />
<circle cx="396" cy="257.6" r="0.9" fill="#141414"/>
<circle cx="585.2" cy="257.8" r="1.1" fill="#141414"/>
<line x1="523" y1="381.4" x2="594" y2="381.4" stroke="#a6a6a6" stroke-width="0.6" />
<line x1="550.6" y1="366" x2="550.6" y2="384" stroke="#a6a6a6" stroke-width="0.6" />
<line x1="592.6" y1="366" x2="592.6" y2="384" stroke="#a6a6a6" stroke-width="0.6" />
<circle cx="550.6" cy="381.4" r="1.1" fill="#141414"/>
<circle cx="592.6" cy="381.4" r="1.1" fill="#141414"/>
<line x1="570.4" y1="367" x2="570.4" y2="477" stroke="#a6a6a6" stroke-width="0.6" />
<circle cx="570.4" cy="477" r="1.1" fill="#141414"/>
<path d="M425 375.8 C446 380.5 462 399 464.8 424" fill="none" stroke="#a6a6a6" stroke-width="0.6" />
<line x1="465" y1="419" x2="465" y2="428" stroke="#555" stroke-width="0.7" />
<line x1="389.6" y1="477.5" x2="389.6" y2="493" stroke="#a6a6a6" stroke-width="0.6" />
<line x1="432.2" y1="477.5" x2="432.2" y2="493" stroke="#a6a6a6" stroke-width="0.6" />
<line x1="389.6" y1="490.8" x2="432.2" y2="490.8" stroke="#a6a6a6" stroke-width="0.6" />
<circle cx="389.6" cy="490.8" r="1.1" fill="#141414"/>
<circle cx="432.2" cy="490.8" r="1.1" fill="#141414"/>
<path d="M318.8 514.3 H368.8 L408.8 491" fill="none" stroke="#a6a6a6" stroke-width="0.6" />
<path d="M652 247.6 L643.4 245.2" fill="none" stroke="#a6a6a6" stroke-width="0.6" />
<text x="607.4" y="41.5" font-size="15.9" text-anchor="start" fill="#0c0c0c" textLength="160.2" lengthAdjust="spacingAndGlyphs">VG2001 DIMENSIONS</text>
<text x="243.2" y="254.8" font-size="15.8" text-anchor="start" fill="#0c0c0c" textLength="48.6" lengthAdjust="spacingAndGlyphs">18 1/2”</text>
<text x="92.8" y="279.5" font-size="15.8" text-anchor="start" fill="#0c0c0c" textLength="99" lengthAdjust="spacingAndGlyphs">FUNCTIONAL</text>
<text x="93.2" y="297.5" font-size="15.8" text-anchor="start" fill="#0c0c0c" textLength="62" lengthAdjust="spacingAndGlyphs">BUTTON</text>
<text x="169" y="335.2" font-size="15.8" text-anchor="start" fill="#0c0c0c" textLength="23.2" lengthAdjust="spacingAndGlyphs">25º</text>
<text x="62.2" y="378.8" font-size="15.8" text-anchor="start" fill="#0c0c0c" textLength="42" lengthAdjust="spacingAndGlyphs">5 5/8”</text>
<text x="89.8" y="414" font-size="15.8" text-anchor="start" fill="#0c0c0c" textLength="42.4" lengthAdjust="spacingAndGlyphs">4 1/2”</text>
<text x="116.5" y="451.8" font-size="15.8" text-anchor="start" fill="#0c0c0c" textLength="42.3" lengthAdjust="spacingAndGlyphs">2 1/4”</text>
<text x="242.5" y="451.9" font-size="15.8" text-anchor="start" fill="#0c0c0c" textLength="41.3" lengthAdjust="spacingAndGlyphs">1 3/4”</text>
<text x="133" y="543" font-size="15.8" text-anchor="start" fill="#0c0c0c" textLength="59" lengthAdjust="spacingAndGlyphs">Ø 1 3/8”</text>
<text x="93.8" y="672" font-size="15.8" text-anchor="start" fill="#0c0c0c" textLength="98.2" lengthAdjust="spacingAndGlyphs">SPRAY HOSE</text>
<text x="180.8" y="719.5" font-size="15.8" text-anchor="start" fill="#0c0c0c" textLength="94.2" lengthAdjust="spacingAndGlyphs">FRONT VIEW</text>
<text x="460.4" y="254.6" font-size="15.8" text-anchor="start" fill="#0c0c0c" textLength="42" lengthAdjust="spacingAndGlyphs">9 1/2”</text>
<text x="324.5" y="379" font-size="15.8" text-anchor="start" fill="#0c0c0c" textLength="50.5" lengthAdjust="spacingAndGlyphs">10 3/8”</text>
<text x="460.4" y="414.4" font-size="15.8" text-anchor="start" fill="#0c0c0c" textLength="23.2" lengthAdjust="spacingAndGlyphs">90º</text>
<text x="529.2" y="379.3" font-size="15.8" text-anchor="start" fill="#0c0c0c" textLength="13.6" lengthAdjust="spacingAndGlyphs">2”</text>
<text x="552" y="414.4" font-size="15.8" text-anchor="start" fill="#0c0c0c" textLength="42" lengthAdjust="spacingAndGlyphs">6 1/4”</text>
<text x="324.4" y="511.6" font-size="15.8" text-anchor="start" fill="#0c0c0c" textLength="42.6" lengthAdjust="spacingAndGlyphs">2 1/4”</text>
<text x="461" y="511.6" font-size="15.8" text-anchor="start" fill="#0c0c0c" textLength="77.6" lengthAdjust="spacingAndGlyphs">SIDE VIEW</text>
<text x="653.6" y="236" font-size="15.8" text-anchor="start" fill="#0c0c0c" textLength="100.8" lengthAdjust="spacingAndGlyphs">EXPANDABLE</text>
<text x="653.6" y="254.6" font-size="15.8" text-anchor="start" fill="#0c0c0c" textLength="74.4" lengthAdjust="spacingAndGlyphs">UP TO 30”</text>
<text x="460.8" y="634" font-size="15.8" text-anchor="start" fill="#0c0c0c" textLength="93.5" lengthAdjust="spacingAndGlyphs">SWIVEL 360º</text>
<text x="462" y="719.3" font-size="15.8" text-anchor="start" fill="#0c0c0c" textLength="73.2" lengthAdjust="spacingAndGlyphs">TOP VIEW</text>
<text x="34" y="752.6" font-size="12.6" text-anchor="start" fill="#0c0c0c" textLength="249" lengthAdjust="spacingAndGlyphs">© 2016 VIGO Industries, All rights reserved.</text>
<rect x="0" y="791.3" width="800" height="8.7" fill="#000"/>
</svg>
</body></html>
